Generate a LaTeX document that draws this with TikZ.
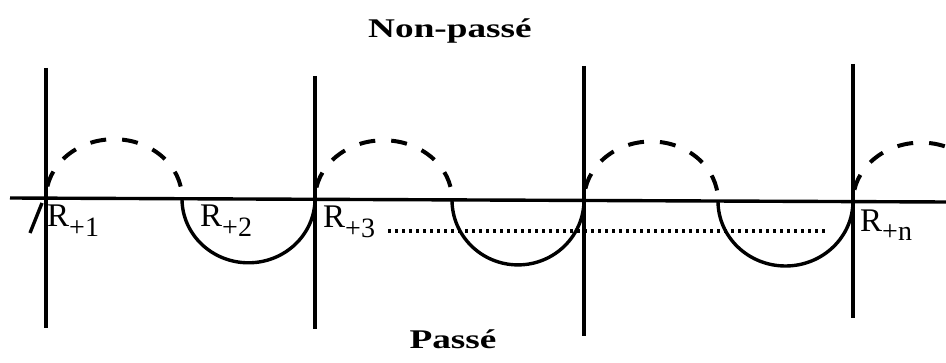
\documentclass[tikz,border=0pt]{standalone}
\usepackage{fontspec}
\setmainfont{Liberation Serif}
\begin{document}
\begin{tikzpicture}[x=1pt,y=-1pt,
  axis/.style={line width=3.4pt},
  upper/.style={line width=4pt, dash pattern=on 16pt off 16pt, dash phase=20pt},
  lower/.style={line width=3.4pt},
  dotline/.style={line width=3.6pt, dash pattern=on 3.4pt off 3.6pt},
  rlabel/.style={anchor=base west, inner sep=0pt, font=\fontsize{33}{33}\selectfont},
  title/.style={inner sep=0pt, anchor=base, font=\bfseries\fontsize{27}{27}\selectfont, xscale=1.38}]
\useasboundingbox (0,0) rectangle (946,363);
\clip (0,0) rectangle (946,363);
% titles
\node[title] (np) at (450,38) {Non-passé};
\node[title] (p) at (453,349) {Passé};
% main horizontal line
\coordinate (L) at (10,198);
\coordinate (R) at (946,202);
\draw[axis] (L) -- (R);
% vertical lines
\coordinate (v1t) at (46,68);  \coordinate (v1b) at (46,328);
\coordinate (v2t) at (315,76); \coordinate (v2b) at (315,329);
\coordinate (v3t) at (584,66); \coordinate (v3b) at (584,336);
\coordinate (v4t) at (853,64); \coordinate (v4b) at (853,318);
\draw[axis] (v1t) -- (v1b);
\draw[axis] (v2t) -- (v2b);
\draw[axis] (v3t) -- (v3b);
\draw[axis] (v4t) -- (v4b);
% arc end points on the line
\coordinate (a0) at (46,198.2);
\coordinate (a1) at (182,198.8);
\coordinate (a2) at (315,199.3);
\coordinate (a3) at (452,199.9);
\coordinate (a4) at (584,200.5);
\coordinate (a5) at (718,201);
\coordinate (a6) at (853,201.6);
% upper dashed arcs
\draw[upper] (a0) arc[start angle=180, end angle=0, x radius=68pt, y radius=59pt];
\draw[upper] (a2) arc[start angle=180, end angle=0, x radius=68.5pt, y radius=59pt];
\draw[upper] (a4) arc[start angle=180, end angle=0, x radius=67pt, y radius=59pt];
\draw[upper] (a6) arc[start angle=180, end angle=0, x radius=68pt, y radius=59pt];
% lower solid arcs
\draw[lower] (a1) arc[start angle=180, end angle=360, x radius=66.5pt, y radius=64pt];
\draw[lower] (a3) arc[start angle=180, end angle=360, x radius=66pt, y radius=65pt];
\draw[lower] (a5) arc[start angle=180, end angle=360, x radius=67.5pt, y radius=65pt];
% slash at left
\coordinate (s1) at (30,233);
\coordinate (s2) at (42,203);
\draw[line width=3.4pt] (s1) -- (s2);
% dotted line
\coordinate (d1) at (388,231);
\coordinate (d2) at (827,231);
\draw[dotline] (d1) -- (d2);
% labels
\node[rlabel] (r1) at (47,227) {R\raisebox{-10pt}{\fontsize{28}{28}\selectfont +1}};
\node[rlabel] (r2) at (200,227) {R\raisebox{-10pt}{\fontsize{28}{28}\selectfont +2}};
\node[rlabel] (r3) at (323,228) {R\raisebox{-10pt}{\fontsize{28}{28}\selectfont +3}};
\node[rlabel] (rn) at (860,232) {R\raisebox{-9pt}{\fontsize{28}{28}\selectfont +n}};
\end{tikzpicture}
\end{document}
